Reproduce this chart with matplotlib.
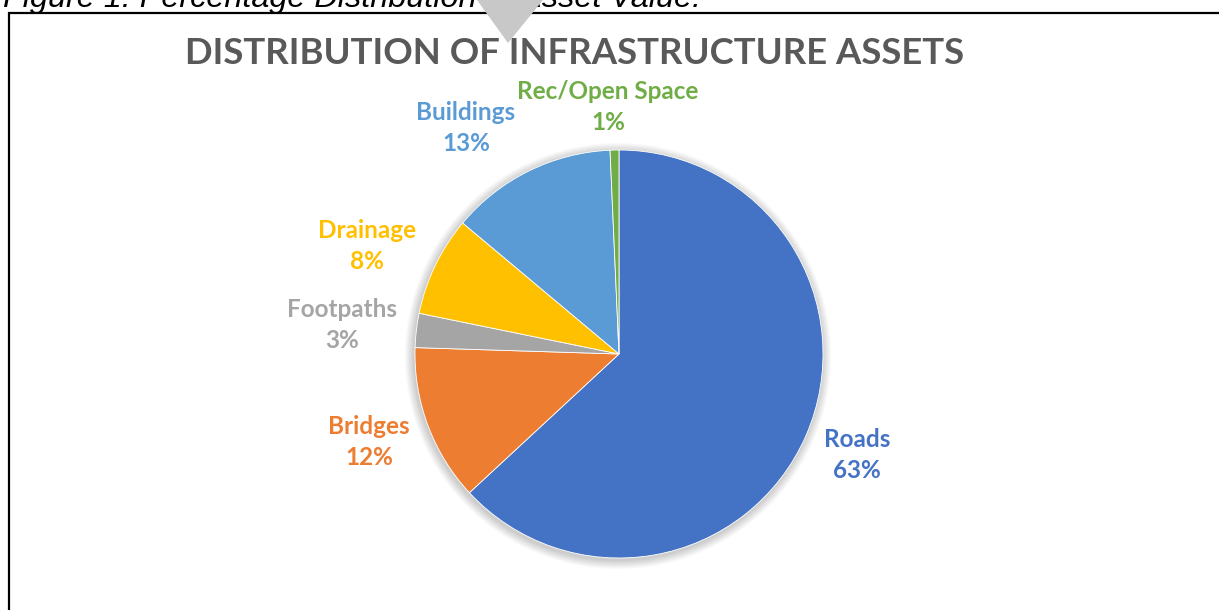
import matplotlib.pyplot as plt
from matplotlib.patches import Circle, Polygon

# data
categories = ['Roads', 'Bridges', 'Footpaths', 'Drainage', 'Buildings', 'Rec/Open Space']
shares = [63.1, 12.4, 2.7, 7.9, 13.2, 0.7]
pct_labels = ['63%', '12%', '3%', '8%', '13%', '1%']
colors = ['#4472C4', '#ED7D31', '#A5A5A5', '#FFC000', '#5B9BD5', '#70AD47']

W, H = 1219, 610
fig = plt.figure(figsize=(W / 100, H / 100), dpi=100)
ax = fig.add_axes([0, 0, 1, 1])

cx, cy, r = 619, H - 354, 204

# soft shadow round the pie
for i in range(10):
    ax.add_patch(Circle((cx - 1, cy - 2), r + 1 + i * 0.9, color='black',
                        alpha=0.018, lw=0, zorder=1))

ax.pie(shares, colors=colors, startangle=90, counterclock=False,
       center=(cx, cy), radius=r, frame=True,
       wedgeprops=dict(linewidth=0.6, edgecolor='white', zorder=2))
ax.set_xlim(0, W)
ax.set_ylim(0, H)
ax.set_aspect('equal')
ax.axis('off')

# label positions (offset from pie centre, px)
offsets = [(238, -101), (-250, -88), (-277, 29), (-252, 108), (-153, 226), (-11, 247)]
for name, pct, col, (dx, dy) in zip(categories, pct_labels, colors, offsets):
    ax.text(cx + dx, cy + dy, name + '\n' + pct, color=col, fontsize=17.5,
            fontfamily='Lato', fontweight='bold', ha='center', va='center',
            linespacing=1.42, zorder=5)

ax.text(575, H - 53, 'DISTRIBUTION OF INFRASTRUCTURE ASSETS', color='#595959',
        fontsize=26.3, fontfamily='Lato', fontweight='bold', ha='center',
        va='center', zorder=5)

# chart frame and caption from the document
ax.plot([9, 9, W], [0, H - 13, H - 13], color='black', lw=1.6, zorder=6,
        solid_joinstyle='miter')
ax.text(3, H - 7, 'Figure 1: Percentage Distribution of Asset Value.',
        fontsize=23.3, fontfamily='Liberation Sans', style='italic',
        ha='left', va='baseline', zorder=6)

# grey pointer overlay
ax.add_patch(Polygon([(477, H), (543, H), (508, H - 43)], closed=True,
                     color='#C8C8C8', lw=0, zorder=7))

fig.savefig('out.png', dpi=100)
